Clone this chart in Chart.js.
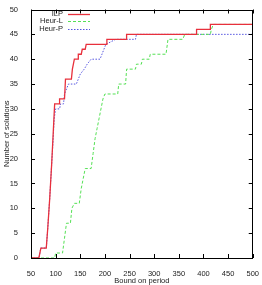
<!DOCTYPE html>
<html>
<head>
<meta charset="utf-8">
<script src="https://cdn.jsdelivr.net/npm/chart.js@4"></script>
<style>
  html, body { margin: 0; padding: 0; background: #fff; }
  #wrap { width: 262px; height: 285px; }
</style>
</head>
<body>
<div id="wrap"><canvas id="chart" width="262" height="285"></canvas></div>
<script>
// values (corner points of the step curves)
const ilpX = [50, 66, 70, 81, 84, 88, 92, 95, 98, 108, 108, 118, 120, 132, 134, 136, 138, 146, 146, 152, 154, 160, 162, 204, 204, 244, 244, 386, 386, 414, 414, 500];
const ilpY = [0, 0, 2, 2, 6, 12, 19, 25, 31, 31, 32, 32, 36, 36, 38, 39, 40, 40, 41, 41, 42, 42, 43, 43, 44, 44, 45, 45, 46, 46, 47, 47];

const heurLX = [50, 98, 100, 114, 118, 122, 130, 133, 138, 148, 152, 156, 160, 172, 176, 180, 184, 188, 192, 196, 200, 226, 228, 242, 244, 262, 264, 274, 276, 290, 292, 324, 328, 358, 362, 414, 416, 420, 500];
const heurLY = [0, 0, 1, 1, 4, 7, 7, 10, 11, 11, 14, 16, 18, 18, 21, 24, 26, 28, 30, 32, 33, 33, 35, 35, 38, 38, 39, 39, 40, 40, 41, 41, 44, 44, 45, 45, 46, 47, 47];

const heurPX = [50, 66, 70, 81, 84, 88, 92, 95, 97, 100, 108, 110, 116, 118, 122, 126, 142, 146, 150, 158, 164, 172, 190, 194, 198, 202, 222, 262, 264, 500];
const heurPY = [0, 0, 2, 2, 6, 12, 19, 24, 28, 30, 30, 31, 31, 33, 34, 35, 35, 36, 37, 38, 39, 40, 40, 41, 42, 43, 44, 44, 45, 45];

const xTicks = [50, 100, 150, 200, 250, 300, 350, 400, 450, 500];
const yTicks = [0, 5, 10, 15, 20, 25, 30, 35, 40, 45, 50];

const seriesNames = ["ILP", "Heur-L", "Heur-P"];
const seriesColors = ["#e8303c", "#55e055", "#5555e0"];
const seriesDash = [[], [3, 2], [1.5, 1.5]];

const font = "'Liberation Sans', Arial, sans-serif";
const toPoints = (xs, ys) => xs.map((x, i) => ({ x, y: ys[i] }));
const allX = [ilpX, heurLX, heurPX];
const allY = [ilpY, heurLY, heurPY];

// gnuplot style frame, inward ticks and the key in the top left
const framePlugin = {
  id: "frame",
  afterDraw: (chart) => {
    const { ctx, chartArea: a, scales } = chart;
    ctx.save();
    ctx.strokeStyle = "#000";
    ctx.lineWidth = 1;
    ctx.beginPath();
    xTicks.forEach((v) => {
      const px = Math.round(scales.x.getPixelForValue(v)) + 0.5;
      ctx.moveTo(px, a.bottom);
      ctx.lineTo(px, a.bottom - 4);
      ctx.moveTo(px, a.top);
      ctx.lineTo(px, a.top + 4);
    });
    yTicks.forEach((v) => {
      const py = Math.round(scales.y.getPixelForValue(v)) + 0.5;
      ctx.moveTo(a.left, py);
      ctx.lineTo(a.left + 4, py);
      ctx.moveTo(a.right, py);
      ctx.lineTo(a.right - 4, py);
    });
    ctx.stroke();
    ctx.strokeRect(Math.round(a.left) + 0.5, Math.round(a.top) + 0.5, Math.round(a.right - a.left) - 1, Math.round(a.bottom - a.top) - 1);

    ctx.font = "7.5px " + font;
    ctx.textAlign = "right";
    ctx.textBaseline = "middle";
    seriesNames.forEach((name, i) => {
      const y = 14 + i * 7.3;
      ctx.fillStyle = "#222";
      ctx.fillText(name, 63, y);
      ctx.strokeStyle = seriesColors[i];
      ctx.lineWidth = i === 0 ? 1.3 : 1;
      ctx.setLineDash(seriesDash[i]);
      ctx.beginPath();
      ctx.moveTo(68, Math.round(y) + 0.5);
      ctx.lineTo(90, Math.round(y) + 0.5);
      ctx.stroke();
    });
    ctx.restore();
  },
};

const ctx = document.getElementById("chart").getContext("2d");

const chart = new Chart(ctx, {
  type: "line",
  data: {
    datasets: seriesNames.map((name, i) => ({
      label: name,
      data: toPoints(allX[i], allY[i]),
      borderColor: seriesColors[i],
      borderWidth: i === 0 ? 1.3 : 1,
      borderDash: seriesDash[i],
      pointRadius: 0,
      tension: 0,
      fill: false,
    })),
  },
  plugins: [framePlugin],
  options: {
    responsive: false,
    animation: false,
    layout: { padding: { top: 6, right: 5, left: 0, bottom: 0 } },
    scales: {
      x: {
        type: "linear",
        min: 50,
        max: 500,
        afterBuildTicks: (s) => {
          s.ticks = xTicks.map((v) => ({ value: v }));
        },
        afterFit: (s) => {
          s.height = 27;
        },
        grid: { display: false },
        border: { display: false },
        ticks: {
          color: "#222",
          font: { family: font, size: 7.5 },
          padding: 3,
          maxRotation: 0,
        },
        title: {
          display: true,
          text: "Bound on period",
          color: "#222",
          font: { family: font, size: 7.5 },
          padding: { top: 2, bottom: 0 },
        },
      },
      y: {
        type: "linear",
        min: 0,
        max: 50,
        afterBuildTicks: (s) => {
          s.ticks = yTicks.map((v) => ({ value: v }));
        },
        afterFit: (s) => {
          s.width = 31;
        },
        grid: { display: false },
        border: { display: false },
        ticks: {
          color: "#222",
          font: { family: font, size: 7.5 },
          padding: 5,
        },
        title: {
          display: true,
          text: "Number of solutions",
          color: "#222",
          font: { family: font, size: 7.5 },
          padding: { top: 2, bottom: 0 },
        },
      },
    },
    plugins: {
      legend: { display: false },
      tooltip: { enabled: false },
    },
  },
});
</script>
</body>
</html>
